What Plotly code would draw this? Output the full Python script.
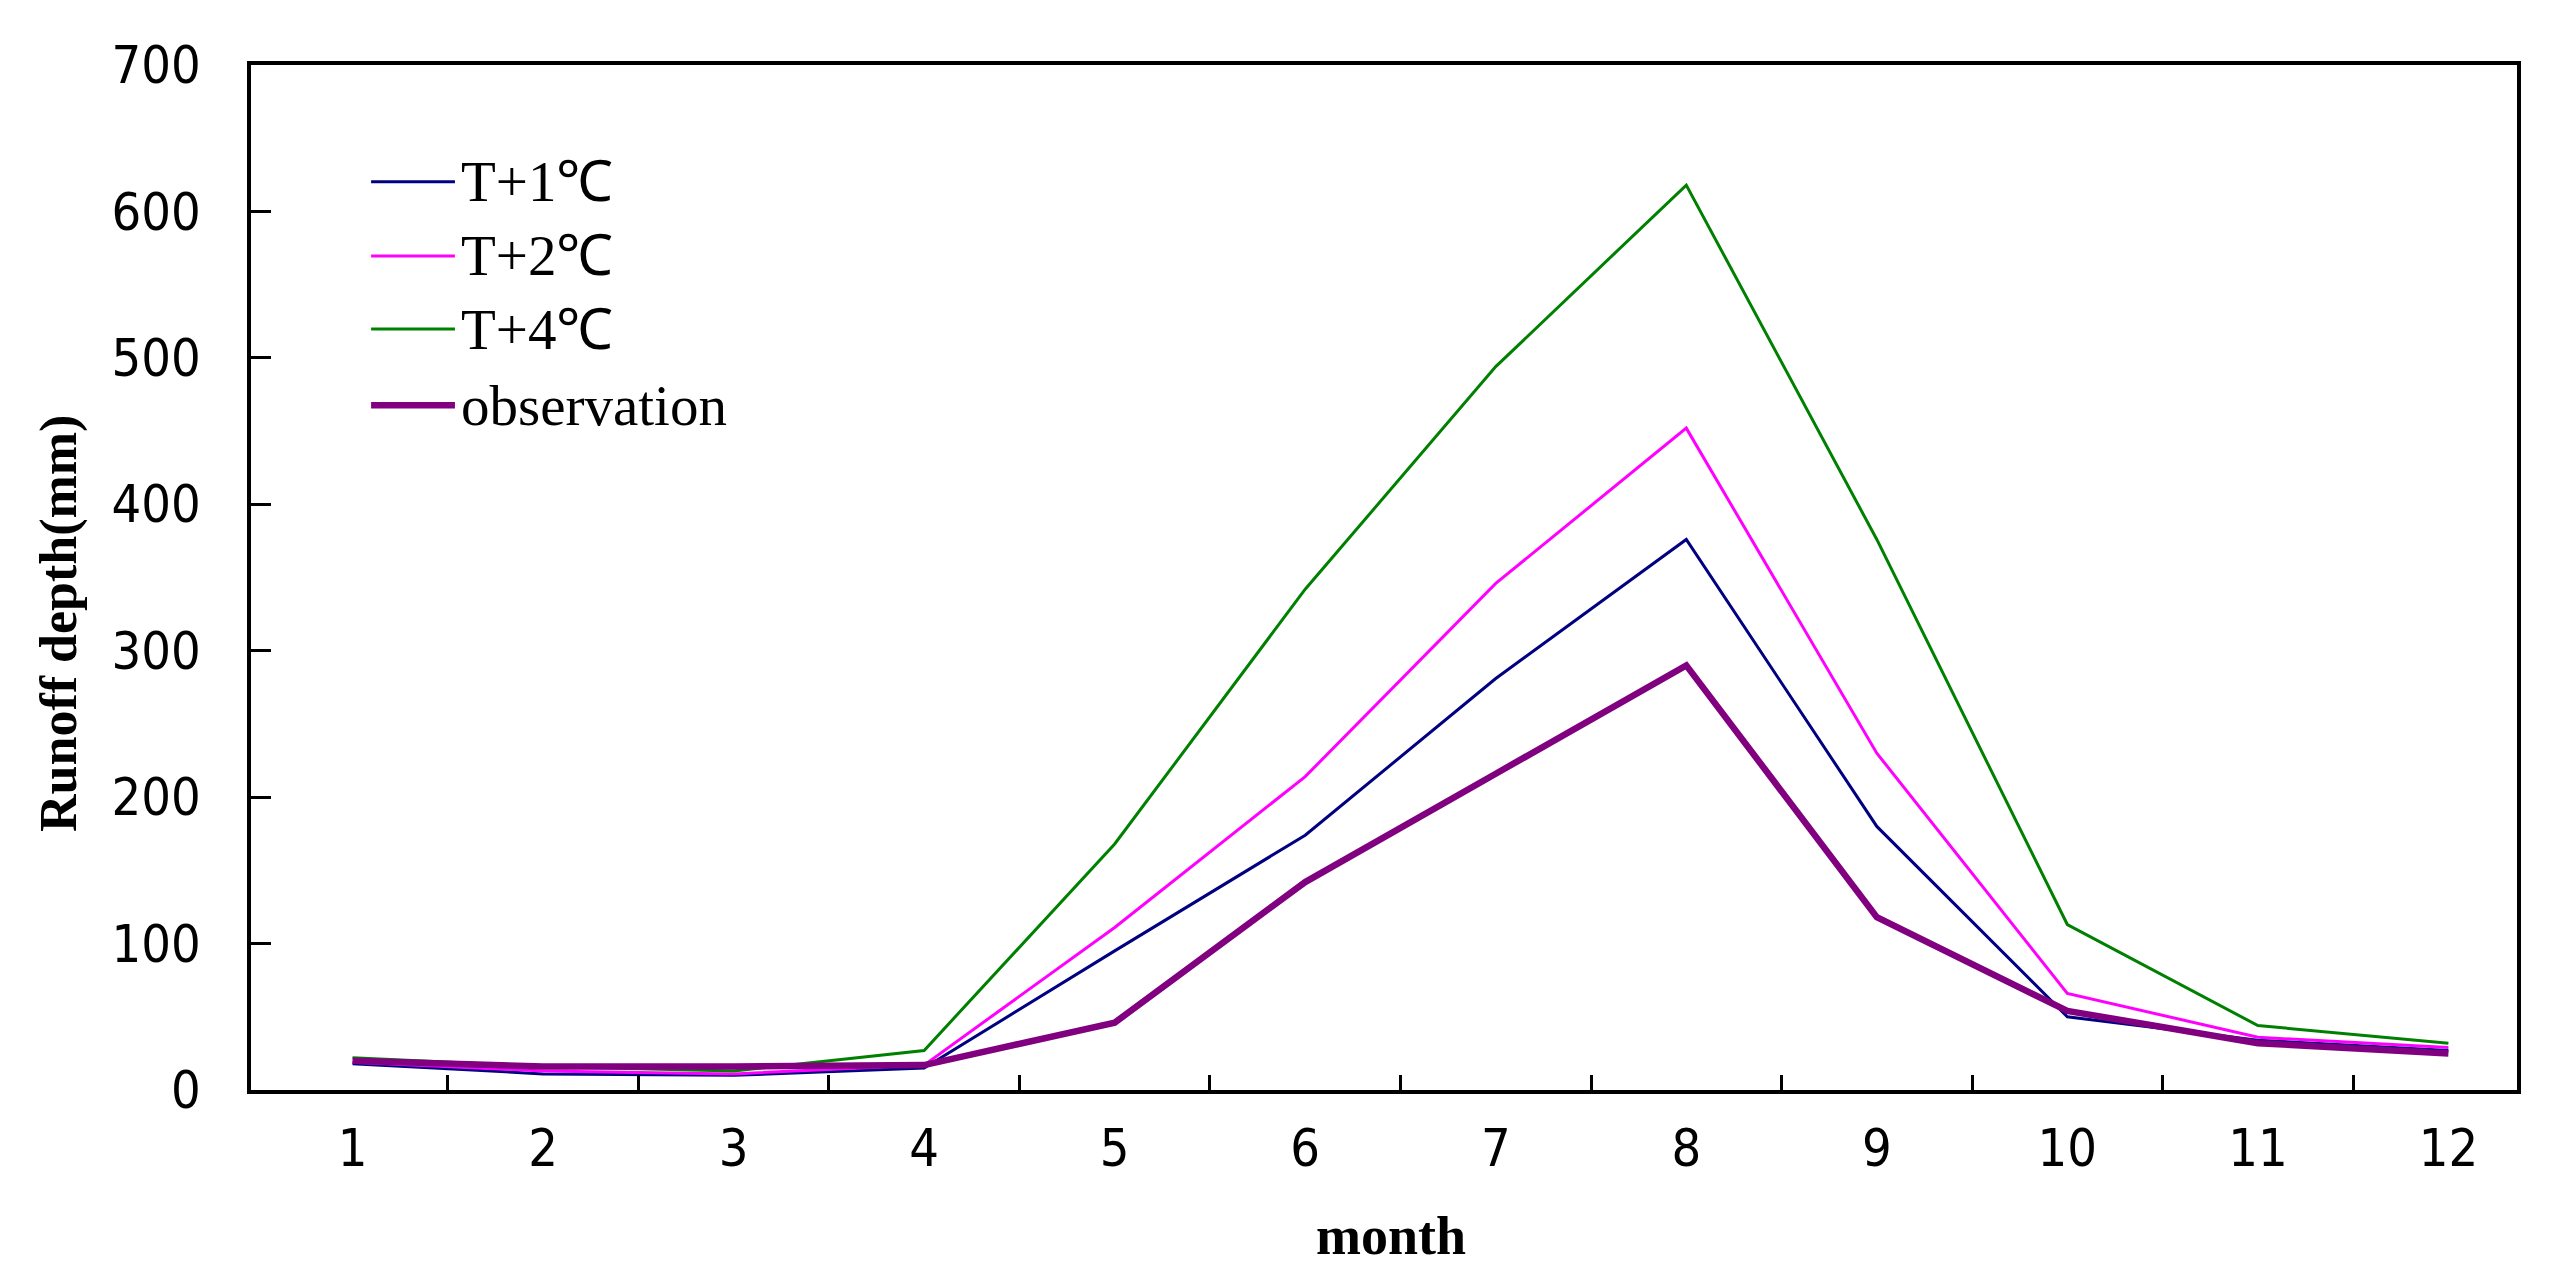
import plotly.graph_objects as go

months = [1, 2, 3, 4, 5, 6, 7, 8, 9, 10, 11, 12]

t_plus_1 = [18, 11, 10, 15, 95, 174, 281, 376, 180, 50, 34, 27]
t_plus_2 = [19, 13, 11, 17, 111, 214, 346, 452, 230, 66, 36, 29]
t_plus_4 = [22, 16, 13, 27, 168, 342, 494, 618, 376, 113, 44, 32]
observation = [20, 16, 16, 17, 46, 142, 216, 290, 118, 54, 32, 25]

series = [
    ("T+1℃", t_plus_1, "#000080", 3),
    ("T+2℃", t_plus_2, "#FF00FF", 3),
    ("T+4℃", t_plus_4, "#008000", 3),
    ("observation", observation, "#800080", 6.5),
]

tick_font = dict(family="Liberation Sans Narrow, DejaVu Sans Condensed, Liberation Mono",
                 size=52, color="black")

fig = go.Figure()
for name, vals, color, width in series:
    fig.add_trace(go.Scatter(x=months, y=vals, mode="lines", name=name,
                             line=dict(color=color, width=width), showlegend=False))

# hand-made legend so the line samples are as long as in the original
legend_rows = [0.886, 0.8137, 0.7424, 0.668]
for (name, vals, color, width), yy in zip(series, legend_rows):
    fig.add_shape(type="line", xref="paper", yref="paper", x0=0.053, x1=0.090,
                  y0=yy, y1=yy, line=dict(color=color, width=width))
    fig.add_annotation(text=name, xref="paper", yref="paper", x=0.092, y=yy,
                       xanchor="left", yanchor="middle", showarrow=False,
                       font=dict(family="Liberation Serif", size=57, color="black"))

fig.add_annotation(text="<b>Runoff depth(mm)</b>", xref="paper", yref="paper",
                   x=-0.085, y=0.455, textangle=-90, showarrow=False,
                   xanchor="center", yanchor="middle",
                   font=dict(family="Liberation Serif", size=52, color="black"))
fig.add_annotation(text="<b>month</b>", xref="paper", yref="paper",
                   x=0.503, y=-0.142, showarrow=False,
                   xanchor="center", yanchor="middle",
                   font=dict(family="Liberation Serif", size=54, color="black"))

fig.update_xaxes(range=[0.467, 12.36], tickvals=months, ticktext=[str(m) for m in months],
                 ticks="", showgrid=False, zeroline=False,
                 showline=True, linecolor="black", linewidth=3.5, mirror=True,
                 tickfont=tick_font, ticklabelstandoff=10,
                 minor=dict(tickvals=[m + 0.5 for m in months[:-1]], ticks="inside",
                            ticklen=15, tickwidth=3, tickcolor="black", showgrid=False))
fig.update_yaxes(range=[0, 700], dtick=100, ticks="inside", ticklen=20, tickwidth=3,
                 tickcolor="black", showgrid=False, zeroline=False,
                 showline=True, linecolor="black", linewidth=3.5, mirror=True,
                 tickfont=tick_font, ticklabelstandoff=36)

fig.update_layout(width=2571, height=1272, paper_bgcolor="white", plot_bgcolor="white",
                  margin=dict(l=243, r=62, t=57, b=190))

fig.write_html("out.html")
